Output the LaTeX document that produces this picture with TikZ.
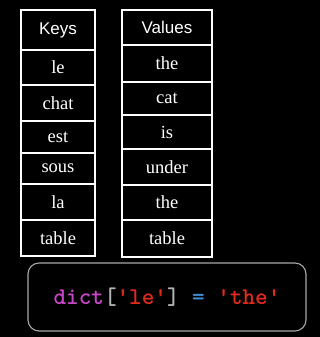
\documentclass[tikz,border=0pt]{standalone}
\usepackage{fontspec}
\setmainfont{Liberation Serif}
\newfontfamily\headfont{Liberation Sans}
\definecolor{kwpink}{HTML}{C845C8}
\definecolor{strred}{HTML}{E02A1C}
\definecolor{brgray}{HTML}{B4B4B4}
\definecolor{opblue}{HTML}{3C8FD4}
\definecolor{boxgray}{HTML}{A8A8A8}
\begin{document}
\begin{tikzpicture}[x=1pt,y=-1pt,
  cell/.style={draw=white, line width=1.6pt, fill=black, text=white,
    inner sep=0pt, outer sep=0pt, font=\fontsize{18.5}{20}\selectfont},
  head/.style={cell, font=\headfont\fontsize{17}{20}\selectfont},
  keycell/.style={minimum width=74pt},
  valcell/.style={minimum width=90pt},
  codebox/.style={draw=boxgray, line width=1.1pt, rounded corners=11pt,
    minimum width=278pt, minimum height=68pt, inner sep=0pt,
    font=\ttfamily\bfseries\fontsize{24}{26}\selectfont}]
\fill[black] (0,0) rectangle (320,337);
\useasboundingbox (0,0) rectangle (320,337);
% keys column
\node[head, keycell, minimum height=40pt] (k0) at (58,30) {Keys};
\node[cell, keycell, minimum height=35pt] (k1) at (58,67.5) {le};
\node[cell, keycell, minimum height=36pt] (k2) at (58,103) {chat};
\node[cell, keycell, minimum height=32pt] (k3) at (58,137) {est};
\node[cell, keycell, minimum height=31pt] (k4) at (58,168.5) {sous};
\node[cell, keycell, minimum height=36pt] (k5) at (58,202) {la};
\node[cell, keycell, minimum height=36pt] (k6) at (58,238) {table};
% values column
\node[head, valcell, minimum height=35pt] (v0) at (167,27.5) {Values};
\node[cell, valcell, minimum height=37pt] (v1) at (167,63.5) {the};
\node[cell, valcell, minimum height=33pt] (v2) at (167,98.5) {cat};
\node[cell, valcell, minimum height=34pt] (v3) at (167,132) {is};
\node[cell, valcell, minimum height=36pt] (v4) at (167,167) {under};
\node[cell, valcell, minimum height=35pt] (v5) at (167,202.5) {the};
\node[cell, valcell, minimum height=37pt] (v6) at (167,238.5) {table};
% lookup expression
\node[codebox] (code) at (167,297) {\textcolor{kwpink}{dict}\textcolor{brgray}{[}\textcolor{strred}{'le'}\textcolor{brgray}{]} \textcolor{opblue}{=} \textcolor{strred}{'the'}};
\end{tikzpicture}
\end{document}
